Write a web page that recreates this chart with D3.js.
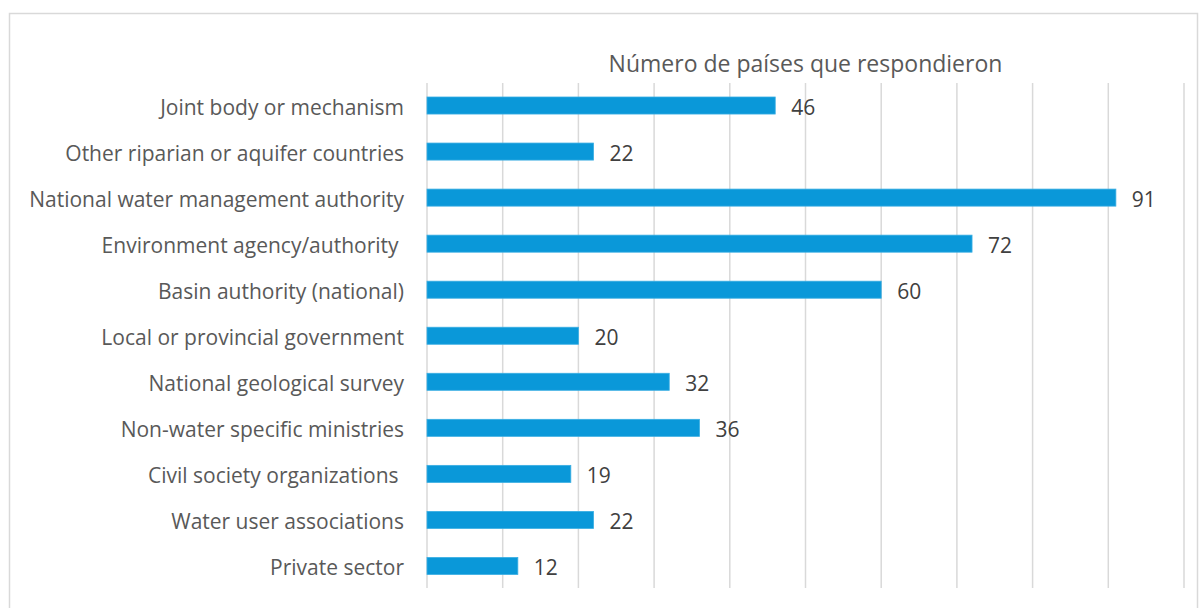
<!DOCTYPE html>
<html>
<head>
<meta charset="utf-8">
<script src="https://cdn.jsdelivr.net/npm/d3@7"></script>
<style>
  body { margin: 0; background: #fff; }
  svg text { font-family: "Open Sans", Lato, sans-serif; fill: #595959; white-space: pre; }
</style>
</head>
<body>
<svg id="chart" width="1200" height="608"></svg>
<script>
// chart data
const categories = [
    "Joint body or mechanism",
    "Other riparian or aquifer countries",
    "National water management authority",
    "Environment agency/authority ",
    "Basin authority (national)",
    "Local or provincial government",
    "National geological survey",
    "Non-water specific ministries",
    "Civil society organizations ",
    "Water user associations",
    "Private sector"
];
const values = [46, 22, 91, 72, 60, 20, 32, 36, 19, 22, 12];
const xTicks = [0, 10, 20, 30, 40, 50, 60, 70, 80, 90, 100];
const title = "Número de países que respondieron";

const svg = d3.select("#chart");

// outer frame
svg.append("rect")
    .attr("x", 9.5).attr("y", 13.5)
    .attr("width", 1188).attr("height", 610)
    .attr("fill", "none")
    .attr("stroke", "#d9d9d9")
    .attr("stroke-width", 1.5);

const x = d3.scaleLinear().domain([0, 100]).range([427, 1184]);
const y = d3.scaleBand().domain(categories).range([82.5, 589]).paddingInner(0.63).paddingOuter(0.315);

// gridlines
svg.append("g")
    .selectAll("line")
    .data(xTicks)
    .enter()
    .append("line")
    .attr("x1", d => x(d)).attr("x2", d => x(d))
    .attr("y1", 83).attr("y2", 588)
    .attr("stroke", "#d9d9d9")
    .attr("stroke-width", 1.5);

// bars
svg.append("g")
    .selectAll("rect")
    .data(values)
    .enter()
    .append("rect")
    .attr("x", x(0))
    .attr("y", (d, i) => y(categories[i]))
    .attr("width", d => x(d) - x(0))
    .attr("height", y.bandwidth())
    .attr("fill", "#0a98d9")
    .attr("stroke", "#3aaee3")
    .attr("stroke-width", 0.8);

// value labels
svg.append("g")
    .selectAll("text")
    .data(values)
    .enter()
    .append("text")
    .attr("x", d => x(d) + 16)
    .attr("y", (d, i) => y(categories[i]) + y.bandwidth() / 2)
    .attr("dy", "0.43em")
    .style("font-size", "21px")
    .style("fill", "#404040")
    .text(d => d);

// category labels
svg.append("g")
    .selectAll("text")
    .data(categories)
    .enter()
    .append("text")
    .attr("x", 404)
    .attr("y", d => y(d) + y.bandwidth() / 2)
    .attr("dy", "0.43em")
    .attr("text-anchor", "end")
    .style("font-size", "21px")
    .text(d => d);

// title
svg.append("text")
    .attr("x", (x(0) + x(100)) / 2)
    .attr("y", 72)
    .attr("text-anchor", "middle")
    .style("font-size", "23px")
    .text(title);
</script>
</body>
</html>
